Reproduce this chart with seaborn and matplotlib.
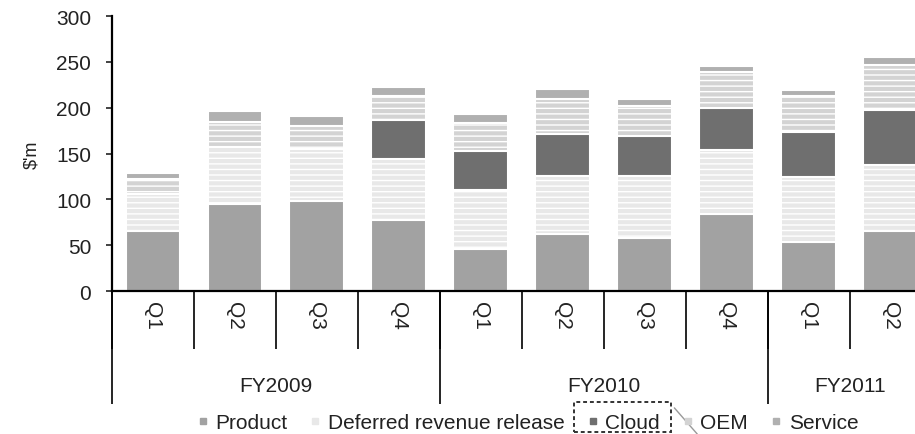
import matplotlib
matplotlib.use("Agg")
import matplotlib.pyplot as plt
import seaborn as sns
import numpy as np
from matplotlib.lines import Line2D
from matplotlib.patches import Rectangle

# quarterly revenue split, $'m
years = ["FY2009", "FY2010", "FY2011"]
year_centers = [1.5, 5.5, 8.5]
quarters = ["Q1", "Q2", "Q3", "Q4", "Q1", "Q2", "Q3", "Q4", "Q1", "Q2"]

product = [65, 95, 98, 78, 46, 62, 58, 84, 54, 66]
deferred = [41, 62, 57, 66, 64, 64, 67, 70, 70, 72]
cloud = [0, 0, 0, 43, 43, 45, 44, 46, 50, 60]
oem = [16, 27, 25, 26, 30, 39, 33, 39, 39, 49]
service = [7, 12, 11, 10, 10, 10, 7, 7, 6, 8]

series = ["Product", "Deferred revenue release", "Cloud", "OEM", "Service"]
colors = ["#a2a2a2", "#e8e8e8", "#6f6f6f", "#d3d3d3", "#b0b0b0"]
hatches = [None, "---", None, "---", None]

sns.set_style("ticks")
plt.rcParams["font.family"] = ["Liberation Sans", "DejaVu Sans"]
plt.rcParams["font.size"] = 15
plt.rcParams["hatch.linewidth"] = 1.0
text_color = "#222222"

fig = plt.figure(figsize=(9.15, 4.35), dpi=100)
ax = fig.add_axes([0.1224, 0.3287, 0.896, 0.632])

x = list(range(len(quarters)))
stack = np.cumsum(np.array([product, deferred, cloud, oem, service]), axis=0)

# draw cumulative totals from the top layer down so each layer covers the next
for i in range(len(series) - 1, -1, -1):
    sns.barplot(x=x, y=stack[i], color=colors[i], saturation=1, width=0.67,
                errorbar=None, edgecolor="white", linewidth=1.5,
                hatch=hatches[i], ax=ax)

ax.set_xlim(-0.5, len(quarters) - 0.5)
ax.set_ylim(0, 300)
ax.set_yticks(range(0, 301, 50))
sns.despine(ax=ax)
for side in ["left", "bottom"]:
    ax.spines[side].set_color("black")
    ax.spines[side].set_linewidth(1.6)

ax.tick_params(axis="y", length=4, width=1.2, pad=11, colors=text_color)
ax.set_xticks(x)
ax.set_xticklabels(quarters, rotation=270, color=text_color)
ax.tick_params(axis="x", which="major", length=0, pad=7)

# quarter separators below the axis
ax.set_xticks(np.arange(-0.5, len(quarters)), minor=True)
ax.tick_params(axis="x", which="minor", length=42, width=1.2, color="black")

# year separators and labels
ax.vlines([-0.5, 3.5, 7.5], -0.41, 0, transform=ax.get_xaxis_transform(),
          color="black", lw=1.2, clip_on=False)
for xc, yr in zip(year_centers, years):
    ax.text(xc, -0.342, yr, transform=ax.get_xaxis_transform(),
            ha="center", va="center", color=text_color)

ax.set_ylabel("$'m", color=text_color, fontsize=13)
ax.yaxis.set_label_coords(-0.088, 0.5)
ax.set_xlabel("")

handles = [Line2D([], [], marker="s", ls="none", markersize=5,
                  markerfacecolor=c, markeredgecolor=c) for c in colors]
fig.legend(handles, series, loc="center", bbox_to_anchor=(0.577, 0.026),
           ncol=5, frameon=False, handlelength=0.5, handletextpad=0.35,
           columnspacing=1.1, labelcolor=text_color)

# dashed highlight around the Cloud entry
fig.patches.append(Rectangle((0.627, 0.004), 0.106, 0.069, transform=fig.transFigure,
                             fill=False, ls=(0, (2, 1.5)), lw=1.4, ec="#333333"))
fig.lines.append(Line2D([0.737, 0.762], [0.06, 0.0], transform=fig.transFigure,
                        color="#999999", lw=1))

fig.savefig("out.png", dpi=100)
